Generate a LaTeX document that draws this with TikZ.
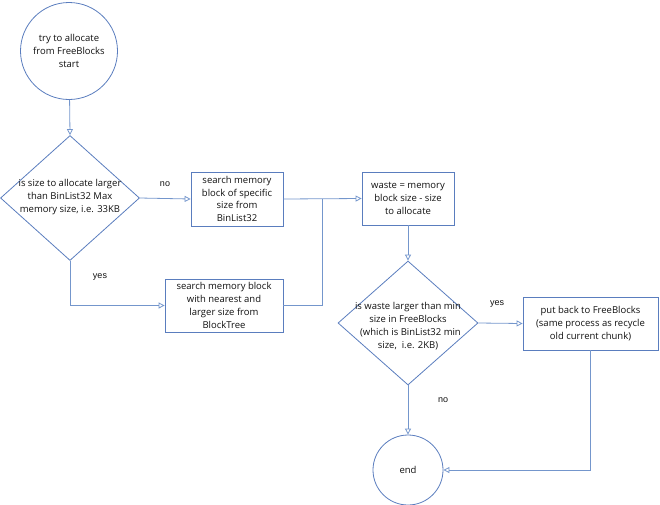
\documentclass[tikz,border=0pt]{standalone}
\usepackage{fontspec}
\setmainfont{Open Sans}
\newfontfamily\lblfont{Liberation Sans}
\usetikzlibrary{arrows.meta,shapes.geometric}
\definecolor{shapeblue}{HTML}{5A7DBE}
\definecolor{lineblue}{HTML}{7496CC}
\definecolor{txt}{HTML}{111111}
\tikzset{
  x=1pt,y=-1pt,
  txtstyle/.style={font=\fontsize{9.5}{12.8}\selectfont,text=txt,align=center},
  circ/.style={circle,draw=shapeblue,line width=0.8pt,inner sep=0pt,txtstyle},
  boxstyle/.style={rectangle,draw=shapeblue,line width=0.8pt,inner sep=0pt,txtstyle},
  dia/.style={diamond,draw=shapeblue,line width=0.8pt,inner sep=0pt,minimum width=#1},
  dtext/.style={txtstyle,inner sep=0pt},
  conn/.style={draw=lineblue,line width=0.8pt},
  arr/.style={conn,-{Triangle[open,length=6pt,width=6pt]}},
  lbl/.style={font=\lblfont\fontsize{9}{11}\selectfont,text=txt,inner sep=0pt}
}
\begin{document}
\begin{tikzpicture}
\useasboundingbox (0,0) rectangle (660,504);
% nodes
\node[circ,minimum size=97pt] (s) at (69,51) {try to allocate\\from FreeBlocks\\start};
\node[dia=139pt,minimum height=125pt] (d1) at (70,198) {};
\node[dtext] (t1) at (70,197) {is size to allocate larger\\than BinList32 Max\\memory size, i.e. 33KB};
\node[boxstyle,minimum width=92pt,minimum height=54pt] (b1) at (237,199) {search memory\\block of specific\\size from\\BinList32};
\node[boxstyle,minimum width=118pt,minimum height=53pt] (b2) at (224,305.5) {search memory block\\with nearest and\\larger size from\\BlockTree};
\node[boxstyle,minimum width=92pt,minimum height=53pt] (w) at (408,198.5) {waste = memory\\block size - size\\to allocate};
\node[dia=140pt,minimum height=124pt] (d2) at (408,323) {};
\node[dtext] (t2) at (408,326) {is waste larger than min\\size in FreeBlocks\\\ \ (which is BinList32 min\\size,\ \ i.e. 2KB)};
\node[boxstyle,minimum width=135pt,minimum height=53pt] (b3) at (590.5,323.5) {put back to FreeBlocks\\(same process as recycle\\old current chunk)};
\node[circ,minimum size=70pt] (e) at (408,470) {end};
\coordinate (j) at (322,198.5);
% labels
\node[lbl] (lno1) at (165,184) {no};
\node[lbl] (lyes1) at (100,277) {yes};
\node[lbl] (lyes2) at (497,304) {yes};
\node[lbl] (lno2) at (443,400) {no};
% connectors
\draw[arr] (s) -- (d1.north);
\draw[arr] (d1.east) -- (b1.west);
\draw[arr] (d1.south) |- (b2.west);
\draw[arr] (b1.east) -- (w.west);
\draw[conn] (b2.east) -| (j);
\draw[arr] (w.south) -- (d2.north);
\draw[arr] (d2.east) -- (b3.west);
\draw[arr] (d2.south) -- (e.north);
\draw[arr] (b3.south) |- (e.east);
\end{tikzpicture}
\end{document}
